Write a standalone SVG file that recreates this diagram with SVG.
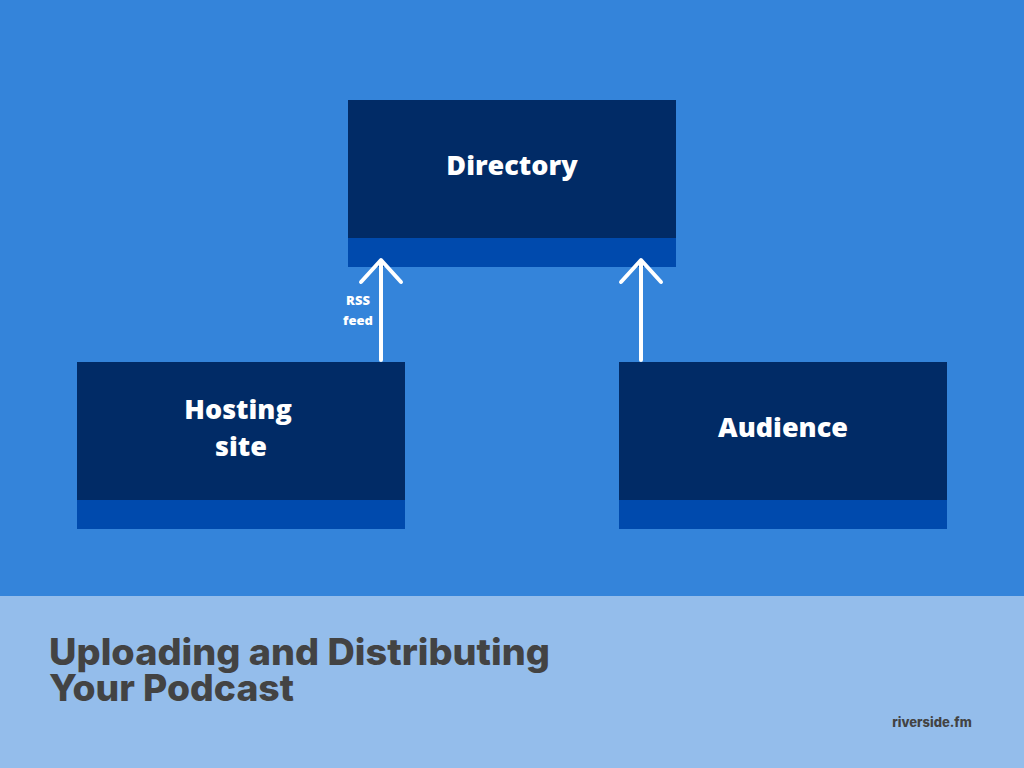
<svg xmlns="http://www.w3.org/2000/svg" width="1024" height="768" viewBox="0 0 1024 768">
<style>
.box{fill:#012b66}
.band{fill:#004aad}
.lbl{font-family:"Open Sans",sans-serif;font-weight:800;font-size:27px;fill:#ffffff;text-anchor:middle}
.conn{stroke:#ffffff;stroke-width:4;fill:none;stroke-linecap:round;stroke-linejoin:round}
.small{font-family:"Open Sans",sans-serif;font-weight:800;font-size:13px;fill:#ffffff;text-anchor:middle}
.title{font-family:Inter,sans-serif;font-weight:800;font-size:37px;fill:#434343}
</style>
<rect x="0" y="0" width="1024" height="596" fill="#3484da"/>
<rect x="0" y="596" width="1024" height="172" fill="#94bdeb"/>
<g id="directory">
<rect class="box" x="348" y="100" width="328" height="167"/>
<rect class="band" x="348" y="238" width="328" height="29"/>
<text class="lbl" x="512" y="175">Directory</text>
</g>
<g id="hosting">
<rect class="box" x="77" y="362" width="328" height="167"/>
<rect class="band" x="77" y="500" width="328" height="29"/>
<text class="lbl" x="238" y="419">Hosting</text>
<text class="lbl" x="241" y="456">site</text>
</g>
<g id="audience">
<rect class="box" x="619" y="362" width="328" height="167"/>
<rect class="band" x="619" y="500" width="328" height="29"/>
<text class="lbl" x="783" y="437">Audience</text>
</g>
<g id="connectors">
<path class="conn" d="M381 360 V261 M361 282 L381 260 L401 282"/>
<path class="conn" d="M641 360 V261 M621 282 L641 260 L661 282"/>
<text class="small" x="358" y="305">RSS</text>
<text class="small" x="358" y="325">feed</text>
</g>
<text class="title" x="49" y="665" textLength="501" lengthAdjust="spacingAndGlyphs">Uploading and Distributing</text>
<text class="title" x="49" y="701" textLength="245" lengthAdjust="spacingAndGlyphs">Your Podcast</text>
<text x="932" y="727" font-family="Inter,sans-serif" font-weight="800" font-size="13" fill="#434343" text-anchor="middle">riverside.fm</text>
</svg>
